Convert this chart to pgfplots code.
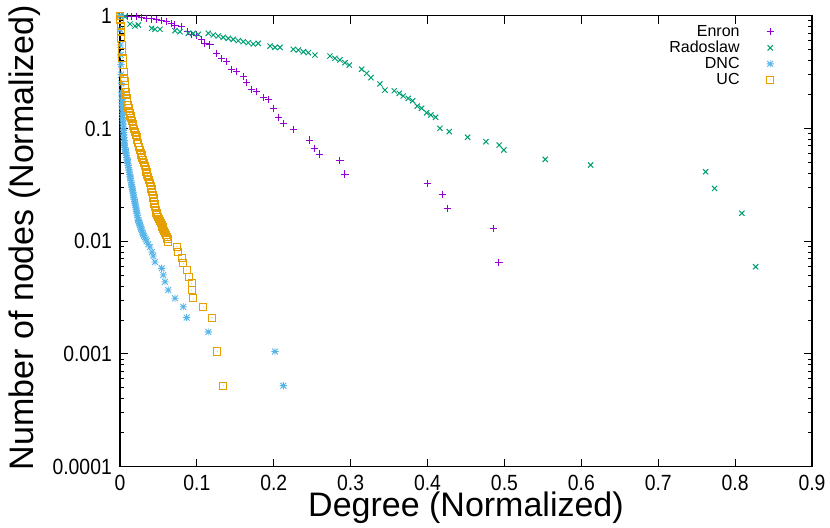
\documentclass[border=0pt]{standalone}
\usepackage{pgfplots}
\usepackage{pgfplotstable}
\pgfplotsset{compat=1.18}
\usepackage{fontspec}
\setmainfont{Liberation Sans}
\newfontfamily\tickfont[FakeStretch=0.88]{Liberation Sans}
\definecolor{cEnron}{HTML}{9400D3}
\definecolor{cRad}{HTML}{009E73}
\definecolor{cDNC}{HTML}{56B4E9}
\definecolor{cUC}{HTML}{E69F00}

\pgfdeclareplotmark{gpstar}{%
  \pgfpathmoveto{\pgfqpoint{-\pgfplotmarksize}{0pt}}\pgfpathlineto{\pgfqpoint{\pgfplotmarksize}{0pt}}%
  \pgfpathmoveto{\pgfqpoint{0pt}{-\pgfplotmarksize}}\pgfpathlineto{\pgfqpoint{0pt}{\pgfplotmarksize}}%
  \pgfpathmoveto{\pgfqpoint{-0.8\pgfplotmarksize}{-0.8\pgfplotmarksize}}\pgfpathlineto{\pgfqpoint{0.8\pgfplotmarksize}{0.8\pgfplotmarksize}}%
  \pgfpathmoveto{\pgfqpoint{-0.8\pgfplotmarksize}{0.8\pgfplotmarksize}}\pgfpathlineto{\pgfqpoint{0.8\pgfplotmarksize}{-0.8\pgfplotmarksize}}%
  \pgfusepathqstroke}
\pgfdeclareplotmark{sqdot}{%
  \pgfpathrectangle{\pgfqpoint{-\pgfplotmarksize}{-\pgfplotmarksize}}{\pgfqpoint{2\pgfplotmarksize}{2\pgfplotmarksize}}%
  \pgfusepathqstroke
  \pgfpathcircle{\pgfpointorigin}{0.45pt}\pgfusepathqfill}

\pgfplotstableread{
x y
0 1
0.005 0.995
0.010 0.99
0.015 0.985
0.0217 0.980
0.0282 0.968
0.0347 0.948
0.0412 0.935
0.0477 0.925
0.0542 0.910
0.0607 0.885
0.0672 0.856
0.0715 0.827
0.0802 0.799
0.0884 0.721
0.0932 0.684
0.0997 0.674
0.1062 0.617
0.1105 0.569
0.117 0.550
0.1257 0.464
0.1322 0.419
0.1388 0.391
0.1453 0.335
0.1518 0.319
0.1603 0.288
0.1648 0.2545
0.1713 0.2225
0.1778 0.212
0.1863 0.189
0.1932 0.1814
0.1993 0.151
0.2059 0.1256
0.2124 0.111
0.2254 0.0983
0.2462 0.0790
0.2527 0.0664
0.2592 0.0593
0.2861 0.0522
0.2926 0.0394
0.3996 0.0326
0.4191 0.0261
0.4261 0.0196
0.486 0.0130
0.4928 0.0065
}\enron

\pgfplotstableread{
x y
0 1
0.0065 0.98
0.013 0.844
0.0195 0.810
0.0238 0.827
0.0412 0.773
0.0455 0.758
0.052 0.758
0.0715 0.736
0.078 0.721
0.0888 0.698
0.0953 0.698
0.1018 0.684
0.1148 0.698
0.1213 0.674
0.1278 0.661
0.1343 0.643
0.1408 0.630
0.1473 0.617
0.1538 0.600
0.1603 0.588
0.1668 0.576
0.1733 0.561
0.1798 0.569
0.1951 0.538
0.2016 0.524
0.2081 0.524
0.2254 0.503
0.2319 0.496
0.2384 0.479
0.2449 0.470
0.2536 0.448
0.2731 0.439
0.2796 0.419
0.2861 0.405
0.2926 0.383
0.2982 0.365
0.3143 0.335
0.3208 0.308
0.3264 0.282
0.3381 0.248
0.3446 0.219
0.3567 0.216
0.3632 0.205
0.3684 0.194
0.3749 0.185
0.3806 0.176
0.3866 0.158
0.3923 0.151
0.3988 0.138
0.4044 0.1316
0.4105 0.1256
0.4161 0.1003
0.4282 0.0936
0.4521 0.0835
0.4759 0.0763
0.4932 0.0713
0.4993 0.0644
0.553 0.0532
0.6121 0.0474
0.7616 0.0413
0.7733 0.0294
0.8088 0.0177
0.8267 0.00594
}\radoslaw

\pgfplotstableread{
x y
0 1
0.0003 0.75
0.0006 0.55
0.0009 0.45
0.0012 0.37
0.0015 0.30
0.0018 0.25
0.0022 0.21
0.0025 0.195
0.0027 0.18
0.0028 0.17
0.0030 0.16
0.0031 0.15
0.0033 0.14
0.0034 0.132
0.0036 0.125
0.0038 0.117
0.0040 0.110
0.0043 0.103
0.0045 0.096
0.0048 0.092
0.0050 0.088
0.0053 0.083
0.0055 0.078
0.0057 0.074
0.0059 0.0713
0.0063 0.068
0.0068 0.065
0.0073 0.063
0.0078 0.0606
0.0083 0.058
0.0088 0.055
0.0093 0.053
0.0098 0.0514
0.0102 0.049
0.0107 0.047
0.0112 0.045
0.0117 0.0428
0.0122 0.041
0.0127 0.039
0.0132 0.0375
0.0137 0.0363
0.0141 0.0345
0.0146 0.033
0.0151 0.0316
0.0156 0.0303
0.0161 0.029
0.0166 0.028
0.0171 0.0268
0.0176 0.0257
0.0180 0.0246
0.0185 0.0235
0.0190 0.0226
0.0195 0.0218
0.0200 0.0209
0.0205 0.020
0.0210 0.0192
0.0215 0.0185
0.0220 0.0177
0.0226 0.017
0.0232 0.0162
0.0238 0.0154
0.0245 0.0149
0.0252 0.0144
0.0260 0.0139
0.0267 0.0134
0.0275 0.0129
0.0283 0.0125
0.0291 0.012
0.0299 0.0116
0.0310 0.0112
0.0320 0.0108
0.0333 0.0104
0.0347 0.01005
0.0368 0.0094
0.039 0.00888
0.0416 0.00801
0.0433 0.00739
0.0455 0.00654
0.0542 0.00575
0.0563 0.00501
0.0585 0.00437
0.0628 0.00369
0.0715 0.00312
0.0823 0.00262
0.0867 0.0021
0.1148 0.00157
0.2016 0.00105
0.2124 0.000523
}\dnc

\pgfplotstableread{
x y
0 1
0.0004 0.916
0.0008 0.810
0.0013 0.717
0.0017 0.634
0.0021 0.550
0.0026 0.477
0.0033 0.421
0.0039 0.365
0.0046 0.317
0.0052 0.280
0.0058 0.262
0.0065 0.243
0.0070 0.226
0.0075 0.2105
0.0081 0.198
0.0087 0.186
0.0095 0.174
0.0104 0.1614
0.0110 0.152
0.0117 0.1428
0.0127 0.136
0.0137 0.129
0.0146 0.123
0.0156 0.1165
0.0164 0.110
0.0173 0.105
0.0184 0.099
0.0195 0.093
0.0206 0.088
0.0217 0.084
0.0225 0.079
0.0234 0.0743
0.0247 0.069
0.026 0.0644
0.0270 0.061
0.028 0.0581
0.0290 0.055
0.0299 0.0525
0.0312 0.049
0.0325 0.0465
0.0335 0.0438
0.0345 0.0411
0.0355 0.039
0.0364 0.0371
0.0377 0.035
0.039 0.0328
0.0400 0.031
0.041 0.0290
0.0420 0.0273
0.0429 0.0257
0.0436 0.0242
0.0442 0.0227
0.0448 0.0214
0.0455 0.0201
0.0465 0.019
0.0475 0.0178
0.0485 0.0171
0.0494 0.0164
0.0507 0.0157
0.052 0.0151
0.0531 0.0145
0.0542 0.0139
0.0552 0.0133
0.0563 0.0128
0.0574 0.0123
0.0585 0.0118
0.0596 0.0113
0.0607 0.0109
0.0617 0.0104
0.0628 0.00984
0.0737 0.00893
0.0758 0.00807
0.0802 0.00705
0.0823 0.00637
0.0867 0.00555
0.0901 0.00484
0.0932 0.00423
0.0932 0.00369
0.0953 0.00312
0.1083 0.00262
0.1196 0.0021
0.1265 0.00105
0.1343 0.000523
}\uc

\begin{document}
\begin{tikzpicture}
\begin{axis}[
  name=ax, at={(0,0)}, anchor=south west,
  scale only axis, width=692pt, height=451pt,
  xmin=0, xmax=0.9, ymode=log, ymin=1e-4, ymax=1,
  xtick={0,0.1,0.2,0.3,0.4,0.5,0.6,0.7,0.8,0.9},
  xticklabels={0,0.1,0.2,0.3,0.4,0.5,0.6,0.7,0.8,0.9},
  ytick={1e-4,1e-3,1e-2,1e-1,1},
  yticklabels={0.0001,0.001,0.01,0.1,1},
  minor ytick={2e-4,3e-4,4e-4,5e-4,6e-4,7e-4,8e-4,9e-4,
               2e-3,3e-3,4e-3,5e-3,6e-3,7e-3,8e-3,9e-3,
               2e-2,3e-2,4e-2,5e-2,6e-2,7e-2,8e-2,9e-2,
               0.2,0.3,0.4,0.5,0.6,0.7,0.8,0.9},
  tick align=inside,
  major tick length=8pt, minor tick length=4.5pt,
  every tick/.style={black, line width=1pt},
  axis line style={line width=1.3pt},
  tick label style={font=\tickfont\fontsize{22}{22}\selectfont},
  xticklabel style={anchor=north, inner sep=0pt, yshift=-8.3pt},
  yticklabel style={anchor=east, inner sep=0pt, xshift=-8pt},
  xlabel={Degree (Normalized)},
  ylabel={Number of nodes (Normalized)},
  label style={font=\fontsize{34}{40}\selectfont},
  xlabel style={at={(axis description cs:0.5,-0.1093)}, anchor=base, inner sep=0pt},
  ylabel style={at={(axis description cs:-0.1373,0.508)}, anchor=center, inner sep=0pt},
  clip=false,
  legend plot pos=right,
  legend cell align=right,
  legend style={at={(axis description cs:1,1)}, anchor=north east, xshift=-38pt, yshift=-8pt,
    draw=none, fill=none, inner sep=0pt, font=\fontsize{16}{16}\selectfont,
    /tikz/column sep=26pt, /tikz/row sep=0pt,
    nodes={inner sep=1pt, text height=12pt, text depth=2pt}},
]
\addplot[only marks, mark=+, mark size=3.6pt, color=cEnron, mark options={draw=cEnron}, line width=1pt] table {\enron};
\addlegendentry{Enron}
\addplot[only marks, mark=x, mark size=3.7pt, color=cRad, line width=1pt] table {\radoslaw};
\addlegendentry{Radoslaw}
\addplot[only marks, mark=gpstar, mark size=3.6pt, color=cDNC, line width=0.9pt] table {\dnc};
\addlegendentry{DNC}
\addplot[only marks, mark=sqdot, mark size=3.6pt, color=cUC, line width=1pt] table {\uc};
\addlegendentry{UC}
\end{axis}
\pgfresetboundingbox
\path ([xshift=-120pt,yshift=-60.3pt]ax.south west) rectangle ([xshift=18pt,yshift=15.7pt]ax.north east);
\end{tikzpicture}
\end{document}
